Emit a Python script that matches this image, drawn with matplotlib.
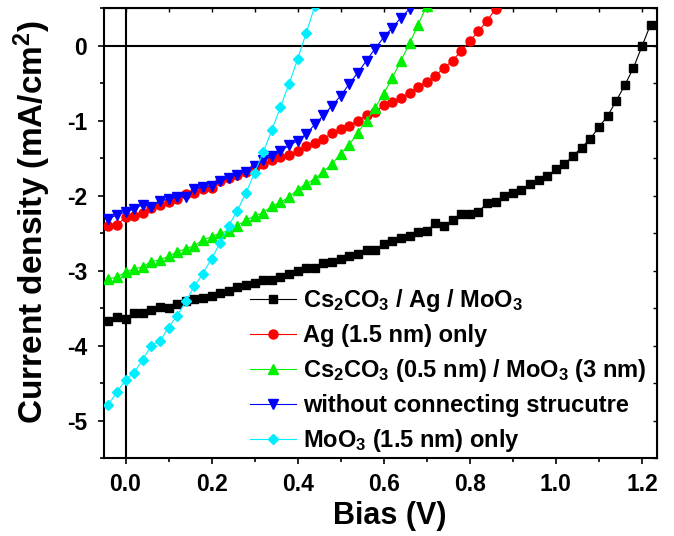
import numpy as np
import matplotlib
matplotlib.use("Agg")
import matplotlib.pyplot as plt

plt.rcParams['font.family'] = ['Liberation Sans', 'DejaVu Sans']
plt.rcParams['font.weight'] = 'bold'
plt.rcParams['mathtext.fontset'] = 'custom'
plt.rcParams['mathtext.rm'] = 'Liberation Sans:bold'
plt.rcParams['mathtext.bf'] = 'Liberation Sans:bold'
plt.rcParams['mathtext.it'] = 'Liberation Sans:bold'
plt.rcParams['mathtext.default'] = 'bf'

# ---- data ----
v_black = [-0.04, -0.02, 0.00, 0.02, 0.04, 0.06, 0.08, 0.10, 0.12, 0.14, 0.16, 0.18, 0.20, 0.22,
           0.24, 0.26, 0.28, 0.30, 0.32, 0.34, 0.36, 0.38, 0.40, 0.42, 0.44, 0.46, 0.48, 0.50,
           0.52, 0.54, 0.56, 0.58, 0.60, 0.62, 0.64, 0.66, 0.68, 0.70, 0.72, 0.74, 0.76, 0.78,
           0.80, 0.82, 0.84, 0.86, 0.88, 0.90, 0.92, 0.94, 0.96, 0.98, 1.00, 1.02, 1.04, 1.06,
           1.08, 1.10, 1.12, 1.14, 1.16, 1.18, 1.20, 1.22]
j_black = [-3.67, -3.62, -3.64, -3.56, -3.56, -3.52, -3.48, -3.50, -3.44, -3.41, -3.38, -3.36, -3.34, -3.30,
           -3.27, -3.22, -3.19, -3.17, -3.12, -3.12, -3.09, -3.05, -3.00, -2.96, -2.96, -2.90, -2.88, -2.84,
           -2.81, -2.78, -2.72, -2.72, -2.65, -2.60, -2.57, -2.54, -2.48, -2.47, -2.37, -2.40, -2.33, -2.25,
           -2.24, -2.22, -2.10, -2.09, -2.01, -1.96, -1.92, -1.85, -1.79, -1.74, -1.65, -1.58, -1.47, -1.36,
           -1.24, -1.09, -0.94, -0.74, -0.53, -0.30, -0.01, 0.28]

v_red = [-0.04, -0.02, 0.00, 0.02, 0.04, 0.06, 0.08, 0.10, 0.12, 0.14, 0.16, 0.18, 0.20, 0.22,
         0.24, 0.26, 0.28, 0.30, 0.32, 0.34, 0.36, 0.38, 0.40, 0.42, 0.44, 0.46, 0.48, 0.50,
         0.52, 0.54, 0.56, 0.58, 0.60, 0.62, 0.64, 0.66, 0.68, 0.70, 0.72, 0.74, 0.76, 0.78,
         0.80, 0.82, 0.84, 0.86, 0.88]
j_red = [-2.41, -2.39, -2.29, -2.27, -2.23, -2.16, -2.12, -2.09, -2.04, -1.98, -1.96, -1.91, -1.90, -1.81,
         -1.76, -1.73, -1.68, -1.62, -1.58, -1.53, -1.49, -1.46, -1.41, -1.34, -1.30, -1.24, -1.17, -1.11,
         -1.07, -1.00, -0.93, -0.89, -0.79, -0.75, -0.70, -0.63, -0.55, -0.48, -0.40, -0.30, -0.20, -0.07,
         0.06, 0.19, 0.33, 0.49, 0.66]

v_green = [-0.04, -0.02, 0.00, 0.02, 0.04, 0.06, 0.08, 0.10, 0.12, 0.14, 0.16, 0.18, 0.20, 0.22,
           0.24, 0.26, 0.28, 0.30, 0.32, 0.34, 0.36, 0.38, 0.40, 0.42, 0.44, 0.46, 0.48, 0.50,
           0.52, 0.54, 0.56, 0.58, 0.60, 0.62, 0.64, 0.66, 0.68, 0.70]
j_green = [-3.11, -3.09, -3.02, -2.98, -2.95, -2.88, -2.86, -2.81, -2.75, -2.71, -2.67, -2.59, -2.55, -2.50,
           -2.47, -2.40, -2.33, -2.27, -2.23, -2.14, -2.09, -2.02, -1.92, -1.84, -1.78, -1.68, -1.58, -1.44,
           -1.32, -1.16, -1.00, -0.83, -0.64, -0.43, -0.20, 0.03, 0.28, 0.53]

v_blue = [-0.04, -0.02, 0.00, 0.02, 0.04, 0.06, 0.08, 0.10, 0.12, 0.14, 0.16, 0.18, 0.20, 0.22,
          0.24, 0.26, 0.28, 0.30, 0.32, 0.34, 0.36, 0.38, 0.40, 0.42, 0.44, 0.46, 0.48, 0.50,
          0.52, 0.54, 0.56, 0.58, 0.60, 0.62, 0.64, 0.66, 0.68]
j_blue = [-2.31, -2.26, -2.22, -2.18, -2.12, -2.15, -2.07, -2.05, -2.02, -2.02, -1.91, -1.89, -1.87, -1.81,
          -1.76, -1.72, -1.68, -1.60, -1.53, -1.47, -1.41, -1.33, -1.27, -1.18, -1.05, -0.93, -0.80, -0.67,
          -0.51, -0.36, -0.20, -0.04, 0.11, 0.24, 0.37, 0.49, 0.62]

v_cyan = [-0.04, -0.02, 0.00, 0.02, 0.04, 0.06, 0.08, 0.10, 0.12, 0.14, 0.16, 0.18, 0.20, 0.22,
          0.24, 0.26, 0.28, 0.30, 0.32, 0.34, 0.36, 0.38, 0.40, 0.42, 0.44]
j_cyan = [-4.79, -4.62, -4.46, -4.36, -4.19, -4.00, -3.94, -3.76, -3.60, -3.41, -3.21, -3.04, -2.84, -2.63,
          -2.40, -2.20, -1.96, -1.70, -1.42, -1.13, -0.82, -0.51, -0.18, 0.17, 0.53]

labels = ['Cs$_2$CO$_3$ / Ag / MoO$_3$',
          'Ag (1.5 nm) only',
          'Cs$_2$CO$_3$ (0.5 nm) / MoO$_3$ (3 nm)',
          'without connecting strucutre',
          'MoO$_3$ (1.5 nm) only']

fig = plt.figure(figsize=(6.74, 5.36), dpi=100)
ax = fig.add_axes([0.1543, 0.1455, 0.8205, 0.8395])

ax.axhline(0, color='black', lw=1.5, zorder=1)
ax.axvline(0, color='black', lw=1.5, zorder=1)

lw = 0.8
ax.plot(v_black, j_black, '-', color='black', marker='s', ms=5.5, lw=lw, label=labels[0], zorder=3)
ax.plot(v_red, j_red, '-', color='red', marker='o', ms=6.5, lw=lw, label=labels[1], zorder=3)
ax.plot(v_green, j_green, '-', color='#00f000', marker='^', ms=7, lw=lw, label=labels[2], zorder=3)
ax.plot(v_blue, j_blue, '-', color='blue', marker='v', ms=7, lw=lw, label=labels[3], zorder=3)
ax.plot(v_cyan, j_cyan, '-', color='#00eeff', marker='D', ms=5.5, lw=lw, label=labels[4], zorder=3)

ax.set_xlim(-0.05, 1.235)
ax.set_ylim(-5.5, 0.5)
ax.set_xticks([0.0, 0.2, 0.4, 0.6, 0.8, 1.0, 1.2])
ax.set_xticklabels(['0.0', '0.2', '0.4', '0.6', '0.8', '1.0', '1.2'])
ax.set_xticks(np.arange(-0.0, 1.25, 0.1), minor=True)
ax.set_yticks([0, -1, -2, -3, -4, -5])
ax.set_yticklabels(['0', '-1', '-2', '-3', '-4', '-5'])
ax.set_yticks(np.arange(-5.5, 0.6, 0.5), minor=True)

for s in ax.spines.values():
    s.set_linewidth(1.5)

ax.tick_params(which='both', direction='out', width=1.2, labelsize=16.5)
ax.tick_params(which='major', length=4)
ax.tick_params(which='minor', length=3)
ax.tick_params(axis='x', which='major', pad=7)
ax.tick_params(axis='y', which='major', pad=8)

# top and right inward ticks
axt = ax.secondary_xaxis('top')
axt.set_xticks(np.arange(0.0, 1.25, 0.1))
axt.tick_params(direction='in', length=3, width=1.0, labeltop=False)
axr = ax.secondary_yaxis('right')
axr.set_yticks(np.arange(-5.5, 0.6, 0.5))
axr.tick_params(direction='in', length=3, width=1.0, labelright=False)

for lab in ax.get_xticklabels() + ax.get_yticklabels():
    lab.set_fontweight('bold')

ax.set_xlabel('Bias (V)', fontsize=22, fontweight='bold')
ax.xaxis.set_label_coords(0.517, -0.095)
ax.set_ylabel('Current density (mA/cm$^2$)', fontsize=24, fontweight='bold')
ax.yaxis.set_label_coords(-0.092, 0.524)

leg = ax.legend(loc='lower right', bbox_to_anchor=(1.0145, -0.033), frameon=False,
                prop={'size': 17, 'weight': 'bold'}, handlelength=1.95, handletextpad=0.3,
                labelspacing=0.42, borderaxespad=0.4)

fig.savefig('out.png', dpi=100)
